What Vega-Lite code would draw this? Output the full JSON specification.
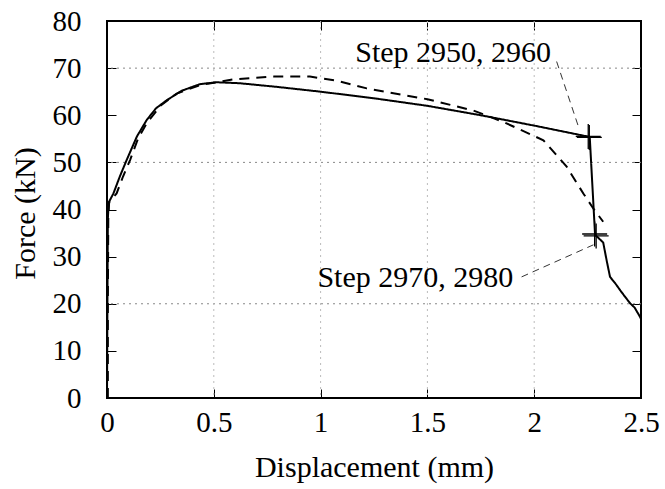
{
  "$schema": "https://vega.github.io/schema/vega-lite/v6.json",
  "autosize": "none",
  "width": 534,
  "height": 377,
  "padding": {"left": 107, "top": 21, "right": 24, "bottom": 91},
  "background": "white",
  "config": {
    "view": {"stroke": "black", "strokeWidth": 2},
    "axis": {
      "domain": false, "grid": false, "tickColor": "black", "tickWidth": 1, "tickSize": -9,
      "labelFont": "Liberation Serif", "titleFont": "Liberation Serif", "labelFlush": false, "labelOverlap": false,
      "labelColor": "black", "titleColor": "black", "labelFontSize": 29, "titleFontSize": 30,
      "titleFontWeight": "normal"
    }
  },
  "resolve": {"axis": {"x": "independent", "y": "independent"}},
  "layer": [
    {
      "data": {"values": [{"g": 20}, {"g": 50}, {"g": 70}]},
      "mark": {"type": "rule", "color": "#888", "strokeWidth": 1, "strokeDash": [2, 4]},
      "encoding": {"y": {"field": "g", "type": "quantitative", "scale": {"domain": [0, 80], "nice": false}, "axis": null}}
    },
    {
      "data": {"values": [{"g": 0.5}, {"g": 1}, {"g": 1.5}, {"g": 2}]},
      "mark": {"type": "rule", "color": "#bbb", "strokeWidth": 1, "strokeDash": [2, 4]},
      "encoding": {"x": {"field": "g", "type": "quantitative", "scale": {"domain": [0, 2.5], "nice": false}, "axis": null}}
    },
    {
      "data": {"values": [
        {"s": "Simulation", "i": 0, "d": 0, "f": 0},
        {"s": "Simulation", "i": 1, "d": 0.002, "f": 20},
        {"s": "Simulation", "i": 2, "d": 0.004, "f": 38},
        {"s": "Simulation", "i": 3, "d": 0.008, "f": 41.5},
        {"s": "Simulation", "i": 4, "d": 0.03, "f": 43.4},
        {"s": "Simulation", "i": 5, "d": 0.06, "f": 47},
        {"s": "Simulation", "i": 6, "d": 0.092, "f": 50.5},
        {"s": "Simulation", "i": 7, "d": 0.14, "f": 55.5},
        {"s": "Simulation", "i": 8, "d": 0.186, "f": 59},
        {"s": "Simulation", "i": 9, "d": 0.23, "f": 61.5},
        {"s": "Simulation", "i": 10, "d": 0.28, "f": 63.2},
        {"s": "Simulation", "i": 11, "d": 0.35, "f": 65.2},
        {"s": "Simulation", "i": 12, "d": 0.435, "f": 66.6},
        {"s": "Simulation", "i": 13, "d": 0.513, "f": 67.0},
        {"s": "Simulation", "i": 14, "d": 0.62, "f": 66.8},
        {"s": "Simulation", "i": 15, "d": 0.8, "f": 66.0},
        {"s": "Simulation", "i": 16, "d": 1.0, "f": 65.0},
        {"s": "Simulation", "i": 17, "d": 1.25, "f": 63.6},
        {"s": "Simulation", "i": 18, "d": 1.5, "f": 62.0},
        {"s": "Simulation", "i": 19, "d": 1.75, "f": 60.0},
        {"s": "Simulation", "i": 20, "d": 2.0, "f": 57.8},
        {"s": "Simulation", "i": 21, "d": 2.26, "f": 55.4},
        {"s": "Simulation", "i": 22, "d": 2.285, "f": 34.6},
        {"s": "Simulation", "i": 23, "d": 2.30, "f": 34.0},
        {"s": "Simulation", "i": 24, "d": 2.323, "f": 33.0},
        {"s": "Simulation", "i": 25, "d": 2.34, "f": 29.0},
        {"s": "Simulation", "i": 26, "d": 2.355, "f": 25.7},
        {"s": "Simulation", "i": 27, "d": 2.38, "f": 24.3},
        {"s": "Simulation", "i": 28, "d": 2.402, "f": 22.9},
        {"s": "Simulation", "i": 29, "d": 2.425, "f": 21.5},
        {"s": "Simulation", "i": 30, "d": 2.449, "f": 20.1},
        {"s": "Simulation", "i": 31, "d": 2.47, "f": 19.2},
        {"s": "Simulation", "i": 32, "d": 2.495, "f": 17.25},
        {"s": "Simulation", "i": 33, "d": 2.5, "f": 16.8},
        {"s": "Experiment", "i": 0, "d": 0.004, "f": 0},
        {"s": "Experiment", "i": 1, "d": 0.004, "f": 20},
        {"s": "Experiment", "i": 2, "d": 0.006, "f": 38},
        {"s": "Experiment", "i": 3, "d": 0.01, "f": 41.5},
        {"s": "Experiment", "i": 4, "d": 0.045, "f": 43.4},
        {"s": "Experiment", "i": 5, "d": 0.075, "f": 47},
        {"s": "Experiment", "i": 6, "d": 0.108, "f": 50.5},
        {"s": "Experiment", "i": 7, "d": 0.145, "f": 55},
        {"s": "Experiment", "i": 8, "d": 0.186, "f": 58.3},
        {"s": "Experiment", "i": 9, "d": 0.25, "f": 62},
        {"s": "Experiment", "i": 10, "d": 0.326, "f": 64.6},
        {"s": "Experiment", "i": 11, "d": 0.435, "f": 66.4},
        {"s": "Experiment", "i": 12, "d": 0.59, "f": 67.6},
        {"s": "Experiment", "i": 13, "d": 0.78, "f": 68.2},
        {"s": "Experiment", "i": 14, "d": 0.95, "f": 68.2},
        {"s": "Experiment", "i": 15, "d": 1.08, "f": 67.3},
        {"s": "Experiment", "i": 16, "d": 1.216, "f": 65.7},
        {"s": "Experiment", "i": 17, "d": 1.5, "f": 63.4},
        {"s": "Experiment", "i": 18, "d": 1.715, "f": 61.0},
        {"s": "Experiment", "i": 19, "d": 1.855, "f": 58.6},
        {"s": "Experiment", "i": 20, "d": 2.043, "f": 54.7},
        {"s": "Experiment", "i": 21, "d": 2.152, "f": 49.1},
        {"s": "Experiment", "i": 22, "d": 2.23, "f": 43.4},
        {"s": "Experiment", "i": 23, "d": 2.28, "f": 40.0},
        {"s": "Experiment", "i": 24, "d": 2.323, "f": 37.4}
      ]},
      "mark": {"type": "line", "color": "black", "strokeWidth": 2},
      "encoding": {
        "x": {"field": "d", "type": "quantitative", "scale": {"domain": [0, 2.5], "nice": false},
              "axis": {"orient": "bottom", "values": [0, 0.5, 1, 1.5, 2, 2.5], "format": "~g", "labelPadding": 19,
                       "title": "Displacement (mm)", "titleY": 78, "titleBaseline": "alphabetic"}},
        "y": {"field": "f", "type": "quantitative", "scale": {"domain": [0, 80], "nice": false},
              "axis": {"orient": "left", "values": [0, 10, 20, 30, 40, 50, 60, 70, 80], "labelPadding": 35,
                       "title": "Force (kN)", "titleX": -82, "titleY": 192, "titleAngle": -90, "titleBaseline": "middle", "titleAlign": "center"}},
        "detail": {"field": "s"},
        "order": {"field": "i", "type": "quantitative"},
        "strokeDash": {"field": "s", "type": "nominal", "scale": {"domain": ["Simulation", "Experiment"], "range": [[1, 0], [10, 7]]}, "legend": null}
      }
    },
    {
      "data": {"values": [
        {"d": 2.253, "f": 55.5}, {"d": 2.258, "f": 55.3},
        {"d": 2.283, "f": 34.8}, {"d": 2.29, "f": 34.4}
      ]},
      "mark": {"type": "point", "shape": "M-1,0H1M0,-1V1", "size": 625, "stroke": "black", "strokeWidth": 1.3, "filled": false, "opacity": 1},
      "encoding": {
        "x": {"field": "d", "type": "quantitative", "scale": {"domain": [0, 2.5], "nice": false},
              "axis": {"orient": "top", "values": [0, 0.5, 1, 1.5, 2, 2.5], "labels": false, "title": null}},
        "y": {"field": "f", "type": "quantitative", "scale": {"domain": [0, 80], "nice": false},
              "axis": {"orient": "right", "values": [0, 10, 20, 30, 40, 50, 60, 70, 80], "labels": false, "title": null}}
      }
    },
    {
      "data": {"values": [
        {"d": 2.105, "f": 71.4, "d2": 2.207, "f2": 57.6},
        {"d": 1.941, "f": 25.7, "d2": 2.277, "f2": 32.5}
      ]},
      "mark": {"type": "rule", "color": "#333", "strokeWidth": 1, "strokeDash": [7, 5]},
      "encoding": {
        "x": {"field": "d", "type": "quantitative", "scale": {"domain": [0, 2.5], "nice": false}, "axis": null},
        "y": {"field": "f", "type": "quantitative", "scale": {"domain": [0, 80], "nice": false}, "axis": null},
        "x2": {"field": "d2"},
        "y2": {"field": "f2"}
      }
    },
    {
      "data": {"values": [
        {"d": 2.079, "f": 71.2, "t": "Step 2950, 2960"},
        {"d": 1.902, "f": 23.5, "t": "Step 2970, 2980"}
      ]},
      "mark": {"type": "text", "font": "Liberation Serif", "fontSize": 30, "align": "right", "baseline": "alphabetic", "color": "black"},
      "encoding": {
        "x": {"field": "d", "type": "quantitative", "scale": {"domain": [0, 2.5], "nice": false}, "axis": null},
        "y": {"field": "f", "type": "quantitative", "scale": {"domain": [0, 80], "nice": false}, "axis": null},
        "text": {"field": "t"}
      }
    }
  ]
}
